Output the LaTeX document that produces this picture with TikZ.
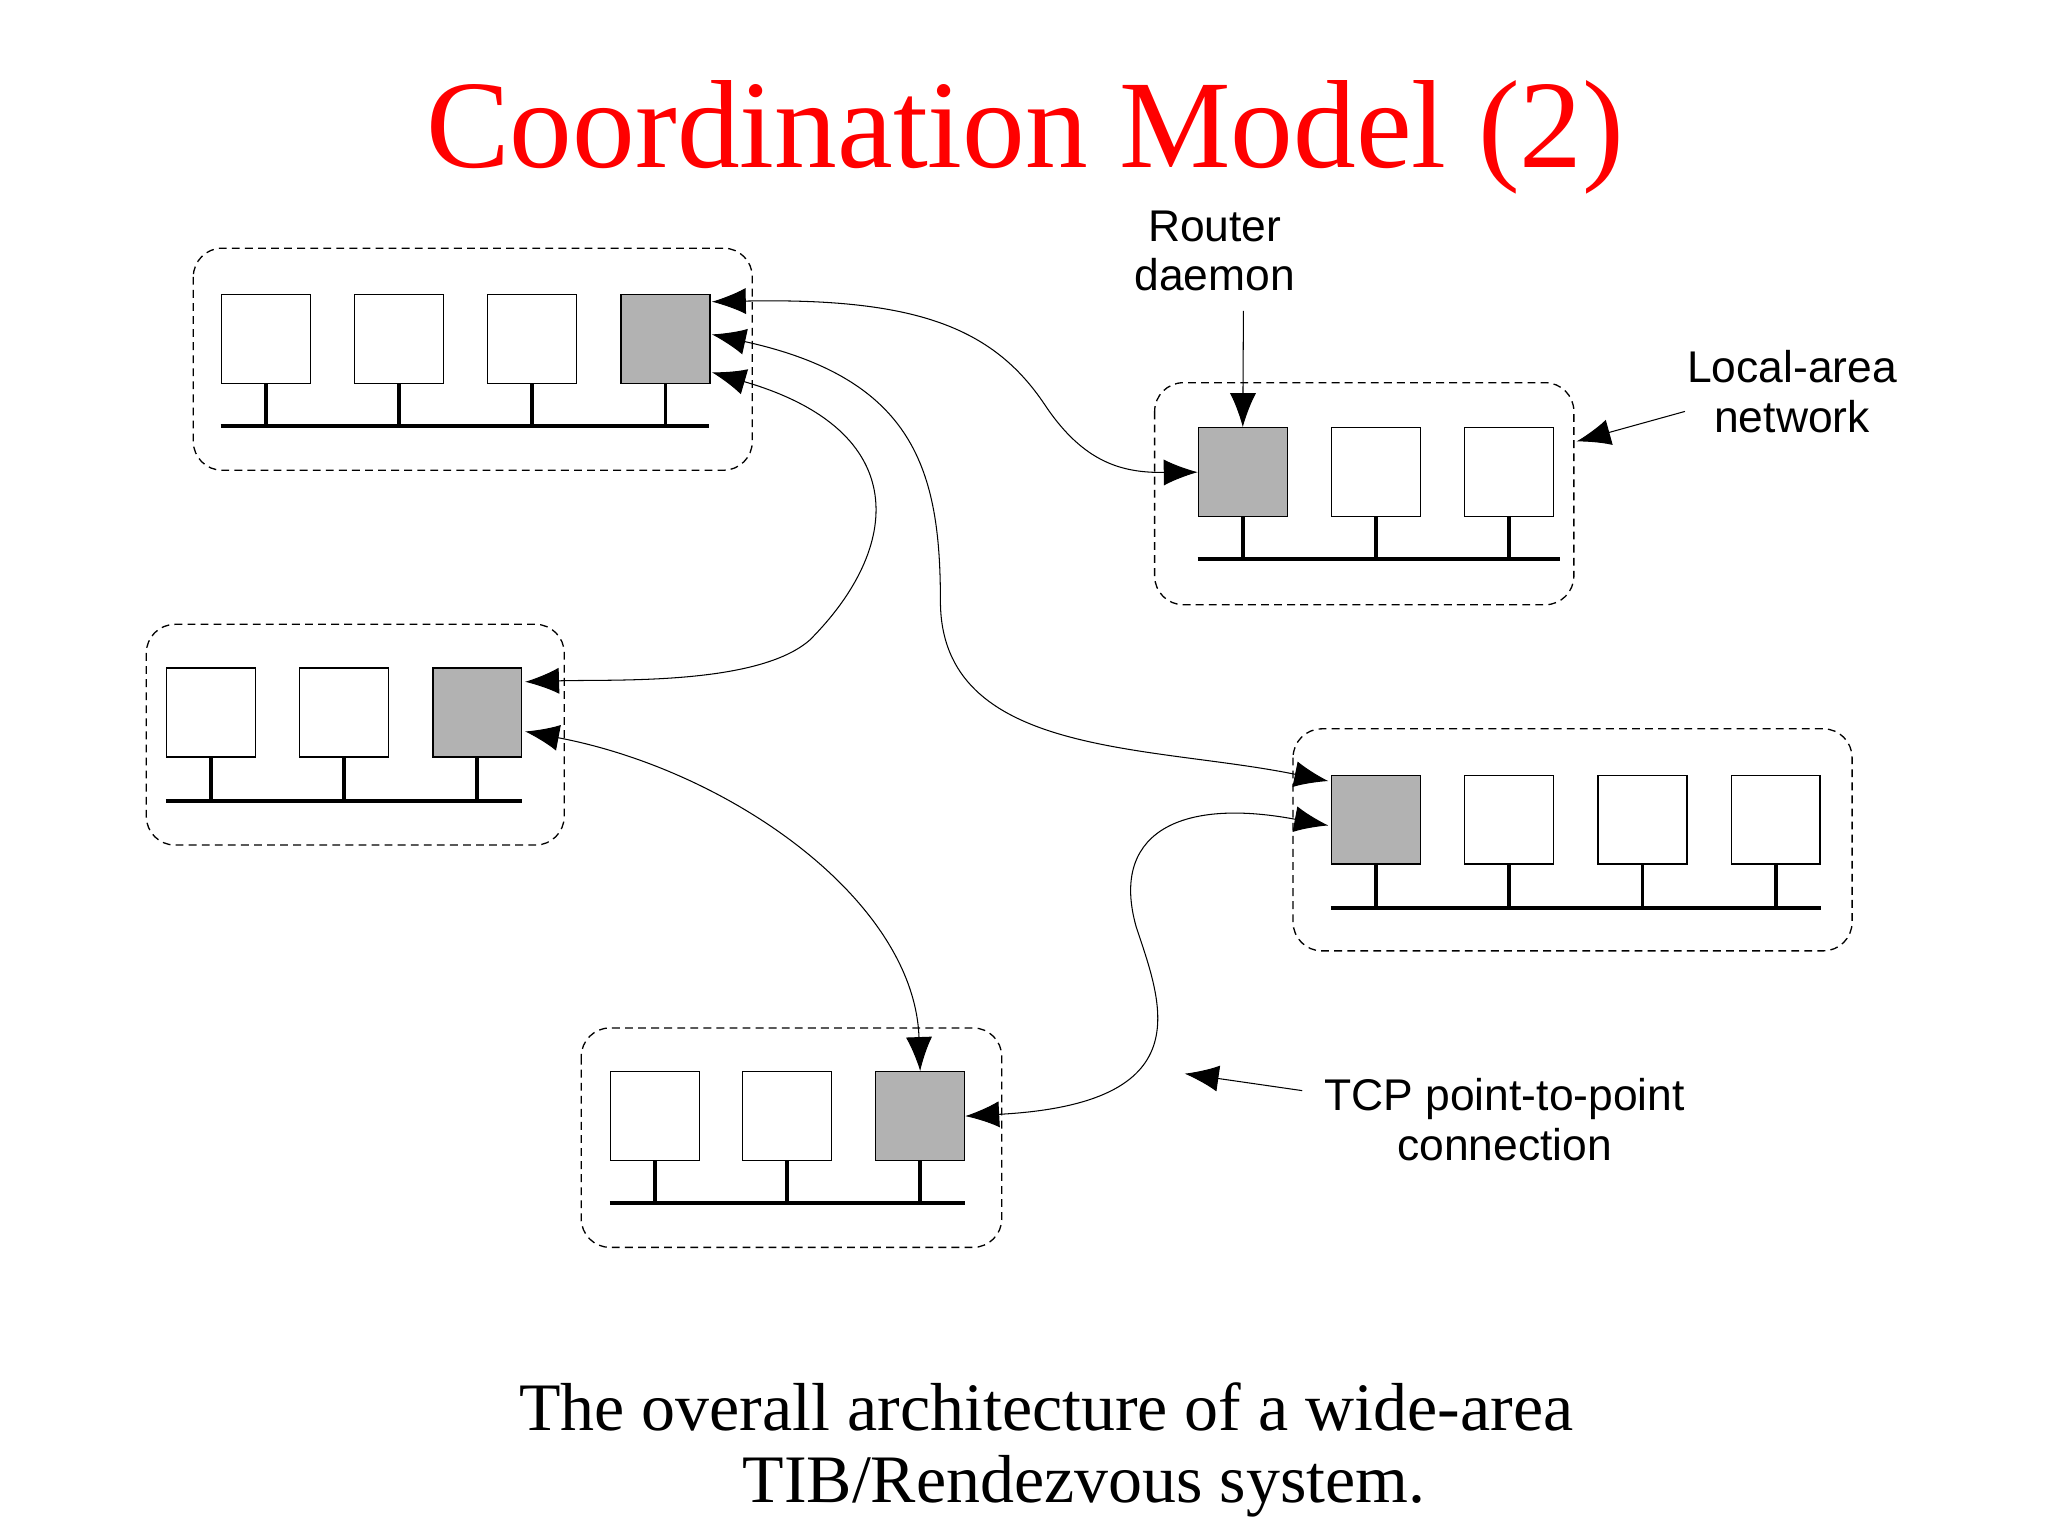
\documentclass[tikz,border=0pt]{standalone}
\usepackage{fontspec}
\setmainfont{Liberation Serif}
\newfontfamily\lab{Liberation Sans}
\usetikzlibrary{arrows.meta}
\begin{document}
\begin{tikzpicture}[x=1pt,y=-1pt,
  pc/.style={draw,fill=white,line width=1pt,minimum width=68pt,minimum height=68pt,inner sep=0pt,anchor=north west},
  rd/.style={pc,fill=gray!60},
  lan/.style={draw,dashed,line width=1pt,rounded corners=22pt,dash pattern=on 6pt off 4pt},
  bus/.style={line width=3pt},
  stem/.style={line width=3pt},
  con/.style={line width=0.8pt,{Latex[length=26pt,width=20pt]}-{Latex[length=26pt,width=20pt]}},
  pt/.style={line width=0.8pt,-{Latex[length=26pt,width=20pt]}},
  lbl/.style={font=\lab\fontsize{34}{38}\selectfont,align=center}]
\useasboundingbox[fill=white] (0,0) rectangle (1568,1176);
\node[text=red,font=\fontsize{96}{104}\selectfont] (title) at (785,105) {Coordination Model (2)};
% LAN 1
\draw[lan] (148,190) rectangle (576,360);
\node[pc] (a1) at (169,225) {}; \node[pc] (a2) at (271,225) {}; \node[pc] (a3) at (373,225) {}; \node[rd] (a4) at (475,225) {};
\draw[bus] (169,326) -- (543,326);
\foreach \n in {a1,a2,a3,a4} \draw[stem] (\n.south) -- (\n.south |- 0,326);
% LAN 2
\draw[lan] (884,293) rectangle (1205,463);
\node[rd] (b1) at (917,327) {}; \node[pc] (b2) at (1019,327) {}; \node[pc] (b3) at (1121,327) {};
\draw[bus] (917,428) -- (1194,428);
\foreach \n in {b1,b2,b3} \draw[stem] (\n.south) -- (\n.south |- 0,428);
% LAN 3
\draw[lan] (112,478) rectangle (432,647);
\node[pc] (c1) at (127,511) {}; \node[pc] (c2) at (229,511) {}; \node[rd] (c3) at (331,511) {};
\draw[bus] (127,613) -- (400,613);
\foreach \n in {c1,c2,c3} \draw[stem] (\n.south) -- (\n.south |- 0,613);
% LAN 4
\draw[lan] (990,558) rectangle (1418,728);
\node[rd] (d1) at (1019,593) {}; \node[pc] (d2) at (1121,593) {}; \node[pc] (d3) at (1223,593) {}; \node[pc] (d4) at (1325,593) {};
\draw[bus] (1019,695) -- (1394,695);
\foreach \n in {d1,d2,d3,d4} \draw[stem] (\n.south) -- (\n.south |- 0,695);
% LAN 5
\draw[lan] (445,787) rectangle (767,955);
\node[pc] (e1) at (467,820) {}; \node[pc] (e2) at (568,820) {}; \node[rd] (e3) at (670,820) {};
\draw[bus] (467,921) -- (739,921);
\foreach \n in {e1,e2,e3} \draw[stem] (\n.south) -- (\n.south |- 0,921);
% connections
\coordinate (a4e1) at (545,231); \coordinate (a4e2) at (545,256); \coordinate (a4e3) at (545,285);
\coordinate (c3e1) at (402,522); \coordinate (c3e2) at (402,560);
\coordinate (d1w1) at (1017,598); \coordinate (d1w2) at (1017,632);
\draw[con] (a4e1) .. controls (700,228) and (760,250) .. (800,310) .. controls (830,355) and (860,362) .. (b1.west);
\draw[con] (a4e2) .. controls (700,290) and (720,360) .. (720,460) .. controls (720,580) and (880,570) .. (d1w1);
\draw[con] (a4e3) .. controls (700,330) and (690,420) .. (620,490) .. controls (580,525) and (470,520) .. (c3e1);
\draw[con] (c3e2) .. controls (560,590) and (700,690) .. (e3.north);
\draw[con] (d1w2) .. controls (900,610) and (850,640) .. (870,710) .. controls (890,770) and (920,845) .. (e3.east);
% labels
\node[lbl] (rdl) at (930,192) {Router\\daemon};
\draw[pt] (952,238) -- (b1.north);
\node[lbl] (lanl) at (1372,300) {Local-area\\network};
\draw[pt] (1290,315) -- (1207,338);
\node[lbl] (tcpl) at (1152,857) {TCP point-to-point\\connection};
\draw[pt] (997,835) -- (907,822);
\node[font=\fontsize{52}{60}\selectfont] (cap1) at (801,1077) {The overall architecture of a wide-area};
\node[font=\fontsize{52}{60}\selectfont] (cap2) at (830,1138) {TIB/Rendezvous system.};
\end{tikzpicture}
\end{document}
